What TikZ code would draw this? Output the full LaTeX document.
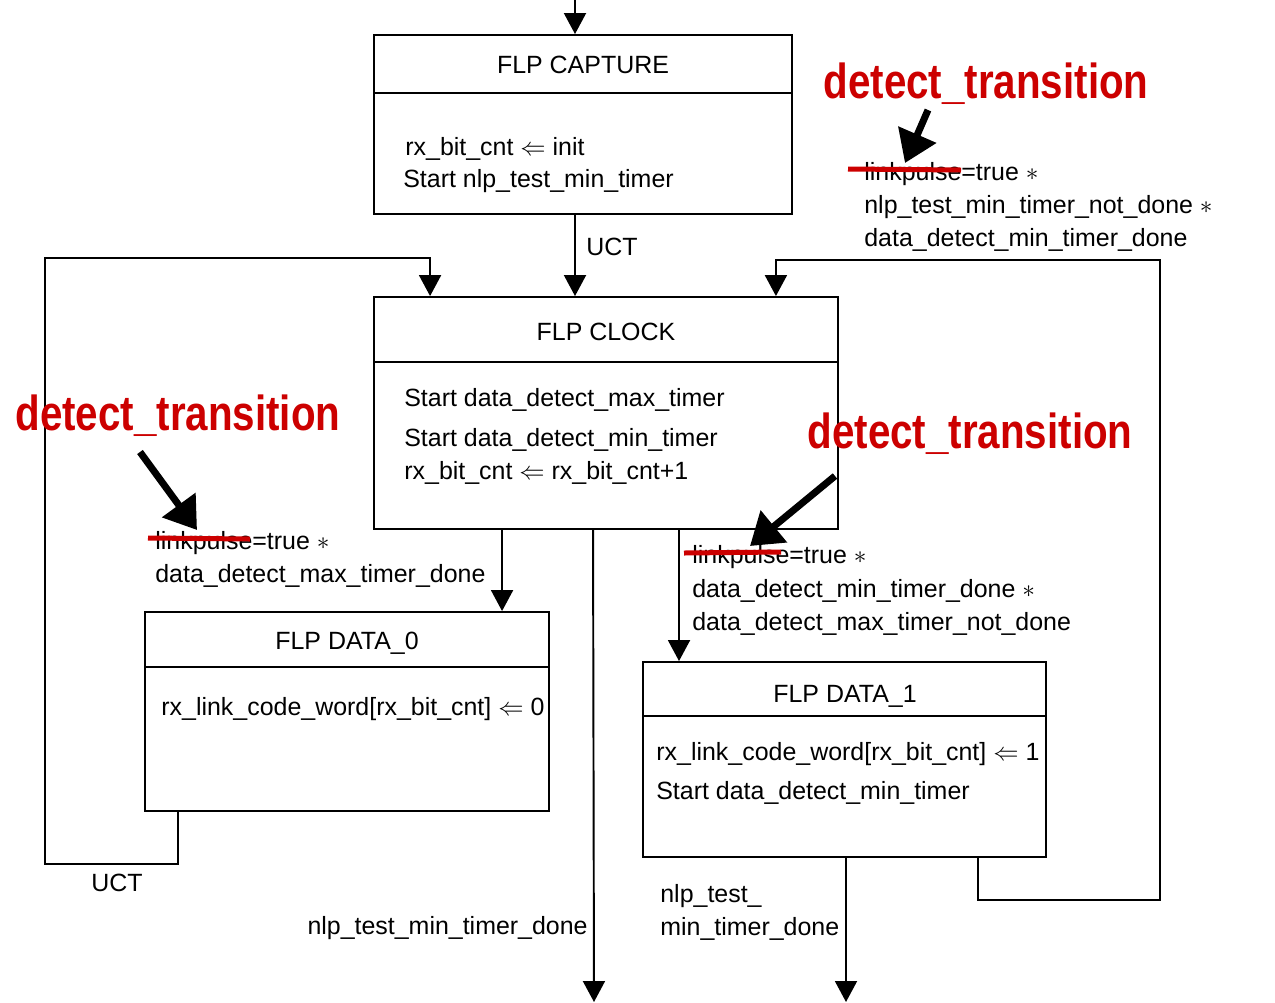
\documentclass[tikz,border=0pt]{standalone}
\usepackage{fontspec}
\setmainfont{Liberation Sans}
\newfontfamily\dtfont[FakeStretch=0.82]{Liberation Sans}
\usetikzlibrary{arrows.meta}
\definecolor{penRed}{RGB}{204,0,0}
\tikzset{
  box/.style={draw,line width=1.1pt,inner sep=0pt},
  txt/.style={anchor=base west,inner sep=0pt,font=\fontsize{14.2}{17}\selectfont},
  ttl/.style={anchor=base,inner sep=0pt,font=\fontsize{14.2}{17}\selectfont},
  arr/.style={line width=1.1pt,-{Triangle[length=0.42cm,width=0.44cm]}},
  dtlbl/.style={text=penRed,inner sep=0pt,font=\dtfont\bfseries\fontsize{28}{30}\selectfont},
  strike/.style={penRed,line width=0.1cm},
  fat/.style={line width=0.14cm,-{Triangle[length=0.62cm,width=0.8cm]}}
}

\begin{document}
\begin{tikzpicture}[x=0.02cm,y=-0.02cm,line cap=butt]
  \useasboundingbox (0,0) rectangle (1275,1002);

  % states
  \node[box,minimum width=8.36cm,minimum height=3.58cm] (capture) at (583,124.5) {};
  \node[box,minimum width=9.28cm,minimum height=4.64cm] (clock) at (606,413) {};
  \node[box,minimum width=8.08cm,minimum height=3.98cm] (data0) at (347,711.5) {};
  \node[box,minimum width=8.06cm,minimum height=3.9cm] (data1) at (844.5,759.5) {};

  \draw[line width=1.1pt] (capture.west |- 0,93) -- (capture.east |- 0,93);
  \draw[line width=1.1pt] (clock.west |- 0,362) -- (clock.east |- 0,362);
  \draw[line width=1.1pt] (data0.west |- 0,667) -- (data0.east |- 0,667);
  \draw[line width=1.1pt] (data1.west |- 0,716) -- (data1.east |- 0,716);

  \node[ttl] (captureT) at (583,73) {FLP CAPTURE};
  \node[txt] (capA) at (405,155) {rx\_bit\_cnt $\Leftarrow$ init};
  \node[txt] (capB) at (403,187) {Start nlp\_test\_min\_timer};

  \node[ttl] (clockT) at (606,340) {FLP CLOCK};
  \node[txt] (clkA) at (404,406) {Start data\_detect\_max\_timer};
  \node[txt] (clkB) at (404,446) {Start data\_detect\_min\_timer};
  \node[txt] (clkC) at (404,479) {rx\_bit\_cnt $\Leftarrow$ rx\_bit\_cnt+1};

  \node[ttl] (data0T) at (347,649) {FLP DATA\_0};
  \node[txt] (d0A) at (161,715) {rx\_link\_code\_word[rx\_bit\_cnt] $\Leftarrow$ 0};

  \node[ttl] (data1T) at (845,702) {FLP DATA\_1};
  \node[txt] (d1A) at (656,760) {rx\_link\_code\_word[rx\_bit\_cnt] $\Leftarrow$ 1};
  \node[txt] (d1B) at (656,799) {Start data\_detect\_min\_timer};

  % transitions
  \coordinate (in) at (575,0);
  \coordinate (out) at (594,1002);
  \draw[arr] (in) -- (in |- capture.north);
  \draw[arr] (capture.south -| in) -- (clock.north -| in);
  \node[txt] (uctA) at (586,255) {UCT};

  \draw[arr] ([xshift=0.68cm]data0.south west) -- ++(0,52) -| (45,258)
    -| ([xshift=1.14cm]clock.north west);
  \node[ttl] (uctB) at (117,891) {UCT};

  \draw[arr] ([xshift=-1.38cm]data1.south east) -- ++(0,42) -| (1160,260)
    -| ([xshift=-1.26cm]clock.north east);

  \draw[arr] ([xshift=2.58cm]clock.south west) -- ([xshift=2.58cm]clock.south west |- data0.north);
  \draw[arr] ([xshift=6.12cm]clock.south west) -- ([xshift=6.12cm]clock.south west |- data1.north);
  \draw[arr] ([xshift=4.4cm]clock.south west) -- (out);
  \draw[arr] ([xshift=0.03cm]data1.south) -- ([xshift=0.03cm]data1.south |- out);

  % conditions
  \node[txt] (condT1) at (864,180) {linkpulse=true $\ast$};
  \node[txt] (condT2) at (864,213) {nlp\_test\_min\_timer\_not\_done $\ast$};
  \node[txt] (condT3) at (864,246) {data\_detect\_min\_timer\_done};

  \node[txt] (condL1) at (155,549) {linkpulse=true $\ast$};
  \node[txt] (condL2) at (155,582) {data\_detect\_max\_timer\_done};

  \node[txt] (condR1) at (692,563) {linkpulse=true $\ast$};
  \node[txt] (condR2) at (692,597) {data\_detect\_min\_timer\_done $\ast$};
  \node[txt] (condR3) at (692,630) {data\_detect\_max\_timer\_not\_done};

  \node[txt,anchor=base east] (exitA) at (588,934) {nlp\_test\_min\_timer\_done};
  \node[txt] (exitB1) at (660,902) {nlp\_test\_};
  \node[txt] (exitB2) at (660,935) {min\_timer\_done};

  % red corrections
  \node[dtlbl] (dtTop) at (986,84) {detect\_transition};
  \node[dtlbl] (dtLeft) at (178,416) {detect\_transition};
  \node[dtlbl] (dtRight) at (970,434) {detect\_transition};

  \draw[strike] (848,169) -- (961,170);
  \draw[strike] (148,538) -- (250,539);
  \draw[strike] (684,553) -- (781,552);

  \draw[fat] (928,110) -- (905,163);
  \draw[fat] (140,452) -- (197,530);
  \draw[fat] (835,476) -- (750,546);
\end{tikzpicture}
\end{document}
